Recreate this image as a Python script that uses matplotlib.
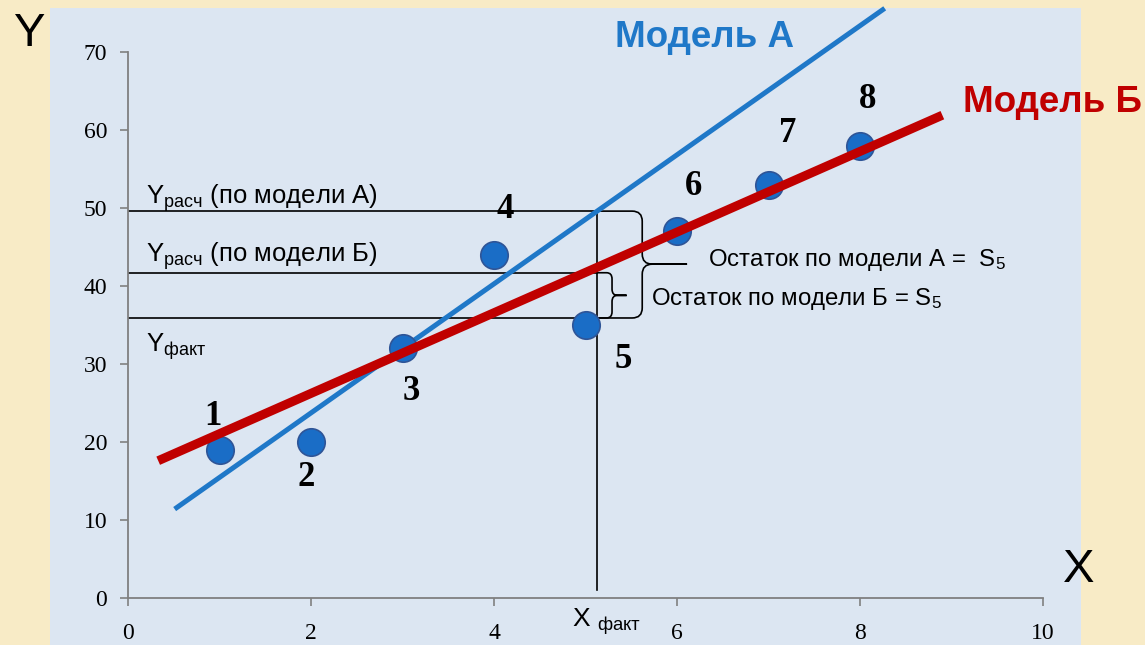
import numpy as np
import matplotlib.pyplot as plt
from matplotlib.patches import Rectangle, PathPatch
from matplotlib.path import Path

plt.rcParams['font.family'] = ['Liberation Sans', 'DejaVu Sans']
plt.rcParams['mathtext.default'] = 'regular'

# -----------------------------
# data
# -----------------------------
point_x = [1, 2, 3, 4, 5, 6, 7, 8]
point_y = [19, 20, 32, 44, 35, 47, 53, 58]
point_labels = ["1", "2", "3", "4", "5", "6", "7", "8"]
# label offsets in pixels (right, up) from each point
label_dx = [-7, -5, 9, 11, 38, 17, 19, 8]
label_dy = [33, -35, -43, 45, -35, 45, 51, 46]

model_a_x = [0.51, 8.27]
model_a_y = [11.4, 75.6]
model_b_x = [0.33, 8.90]
model_b_y = [17.6, 61.9]

x_fact = 5.13
y_calc_a = 49.6
y_calc_b = 41.7
y_fact = 35.9

x_ticks = [0, 2, 4, 6, 8, 10]
y_ticks = [0, 10, 20, 30, 40, 50, 60, 70]

BG = '#f8ebc6'
PANEL = '#dce6f2'
BLUE = '#1f78c8'
RED = '#c00000'


def brace(ax, x0, xm, xtip, ybot, ymid, ytop, rx, ry):
    verts = [
        (x0, ytop), (xm - rx, ytop),
        (xm, ytop), (xm, ytop - ry),
        (xm, ymid + ry),
        (xm, ymid), (xm + rx, ymid),
        (xtip, ymid),
        (xm + rx, ymid),
        (xm, ymid), (xm, ymid - ry),
        (xm, ybot + ry),
        (xm, ybot), (xm - rx, ybot),
        (x0, ybot),
    ]
    codes = [Path.MOVETO, Path.LINETO,
             Path.CURVE3, Path.CURVE3,
             Path.LINETO,
             Path.CURVE3, Path.CURVE3,
             Path.LINETO,
             Path.LINETO,
             Path.CURVE3, Path.CURVE3,
             Path.LINETO,
             Path.CURVE3, Path.CURVE3,
             Path.LINETO]
    ax.add_patch(PathPatch(Path(verts, codes), facecolor='none',
                           edgecolor='black', lw=1.2, clip_on=False))


fig = plt.figure(figsize=(11.45, 6.45), dpi=100, facecolor=BG)
fig.patches.append(Rectangle((50 / 1145, 0), 1031 / 1145, 1 - 8 / 645,
                             transform=fig.transFigure, facecolor=PANEL,
                             edgecolor='none', zorder=-5))

ax = fig.add_axes([128 / 1145, 1 - 598 / 645, 915 / 1145, 546 / 645])
ax.set_zorder(1)
ax.set_facecolor('none')
ax.set_xlim(0, 10)
ax.set_ylim(0, 70)

for s in ['top', 'right']:
    ax.spines[s].set_visible(False)
for s in ['left', 'bottom']:
    ax.spines[s].set_color('#808080')
    ax.spines[s].set_linewidth(1.3)

ax.set_xticks(x_ticks)
ax.set_yticks(y_ticks)
ax.tick_params(axis='both', colors='#808080', length=6, width=1.2,
               labelcolor='black', labelsize=17)
ax.tick_params(axis='x', pad=12)
ax.tick_params(axis='y', pad=9)
for lab in ax.get_xticklabels() + ax.get_yticklabels():
    lab.set_fontfamily('Liberation Serif')

# reference lines
ax.plot([x_fact, x_fact], [1, y_calc_a], color='black', lw=1.2, zorder=2)
for yy in [y_calc_a, y_calc_b, y_fact]:
    ax.plot([0, x_fact], [yy, yy], color='black', lw=1.2, zorder=2)

# braces
brace(ax, x_fact, 5.62, 6.11, y_fact, 42.8, y_calc_a, 0.11, 1.3)
brace(ax, x_fact, 5.29, 5.45, y_fact, 38.8, y_calc_b, 0.06, 0.8)

# model lines
ax.plot(model_a_x, model_a_y, color=BLUE, lw=3.6, solid_capstyle='butt',
        clip_on=False, zorder=3)
ax.plot(model_b_x, model_b_y, color=RED, lw=6.5, solid_capstyle='butt',
        clip_on=False, zorder=4)

# points
ax.scatter(point_x, point_y, s=390, color='#1a6dc6', edgecolors='#2f5597',
           linewidths=1.2, zorder=3)

for px, py, t, dx, dy in zip(point_x, point_y, point_labels, label_dx, label_dy):
    ax.annotate(t, (px, py), xytext=(dx * 0.72, dy * 0.72),
                textcoords='offset points', ha='center', va='center',
                fontsize=25, fontweight='bold', family='Liberation Serif')

# texts
ax.text(0.2, 50.5, 'Y$_{расч}$ (по модели А)', fontsize=18.5, va='baseline')
ax.text(0.2, 43.1, 'Y$_{расч}$ (по модели Б)', fontsize=18.5, va='baseline')
ax.text(0.2, 31.5, 'Y$_{факт}$', fontsize=18.5, va='baseline')
ax.text(6.34, 42.6, 'Остаток по модели А =  S$_5$', fontsize=17.3, va='baseline')
ax.text(5.72, 37.6, 'Остаток по модели Б = S$_5$', fontsize=17.3, va='baseline')
ax.text(4.85, -3.7, 'X $_{факт}$', fontsize=19, va='baseline')

ax.text(5.32, 71.9, 'Модель А', color=BLUE, fontsize=26.5, fontweight='bold',
        va='center', ha='left')
ax.text(9.13, 63.5, 'Модель Б', color=RED, fontsize=26.5, fontweight='bold',
        va='center', ha='left')

fig.text(30 / 1145, 1 - 34 / 645, 'Y', fontsize=34, ha='center', va='center')
fig.text(1079 / 1145, 1 - 570 / 645, 'X', fontsize=34, ha='center', va='center')

fig.savefig('out.png', dpi=100, facecolor=BG)
